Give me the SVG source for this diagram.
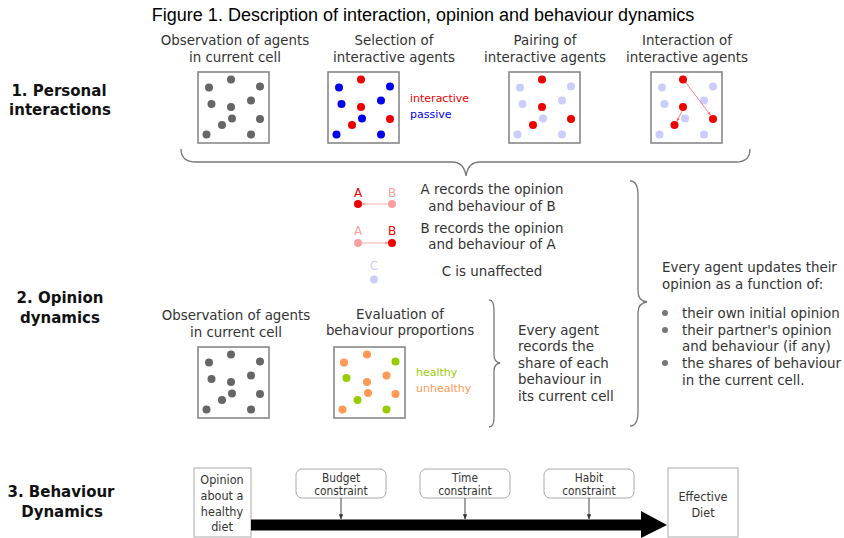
<svg xmlns="http://www.w3.org/2000/svg" width="844" height="538" viewBox="0 0 844 538">
<style>
.t{font-family:"DejaVu Sans",sans-serif;font-size:13.4px;fill:#333}
.m{text-anchor:middle}
.h{font-family:"DejaVu Sans",sans-serif;font-size:15px;font-weight:bold;fill:#111;text-anchor:middle}
.c{font-family:"DejaVu Sans Condensed","DejaVu Sans",sans-serif;font-stretch:condensed;font-size:12.5px;fill:#333;text-anchor:middle}
.k{font-family:"DejaVu Sans Condensed","DejaVu Sans",sans-serif;font-stretch:condensed;font-size:11.8px;fill:#333;text-anchor:middle}
.box{fill:#fff;stroke:#888;stroke-width:1.6}
.bx3{fill:#fff;stroke:#aaa;stroke-width:1}
.br{fill:none;stroke:#777;stroke-width:1.3}
.g{fill:#666}.r{fill:#ee0000}.b{fill:#0000ee}.l{fill:#ccccff}.o{fill:#ff9955}.gr{fill:#99cc00}
.s{font-family:"DejaVu Sans",sans-serif;font-size:11px}
</style>
<defs>
<marker id="ra" viewBox="0 0 10 10" refX="9" refY="5" markerWidth="4" markerHeight="4" orient="auto"><path d="M0,0 L10,5 L0,10 z" fill="#ff6666"/></marker>
<marker id="pa" viewBox="0 0 10 10" refX="9" refY="5" markerWidth="4" markerHeight="4" orient="auto"><path d="M0,0 L10,5 L0,10 z" fill="#f99"/></marker>
<marker id="ka" viewBox="0 0 10 10" refX="9" refY="5" markerWidth="6" markerHeight="6" orient="auto"><path d="M0,1 L10,5 L0,9 z" fill="#333"/></marker>
</defs>
<text x="423" y="21" style="font-family:'Liberation Sans',Arial,sans-serif;font-size:18px;fill:#000" text-anchor="middle">Figure 1. Description of interaction, opinion and behaviour dynamics</text>

<g id="label1"><text class="h" x="59" y="96">1. Personal</text><text class="h" x="60" y="115">interactions</text></g>
<g id="label2"><text class="h" x="60" y="303">2. Opinion</text><text class="h" x="60" y="323">dynamics</text></g>
<g id="label3"><text class="h" x="61" y="497">3. Behaviour</text><text class="h" x="62" y="517">Dynamics</text></g>

<g id="obs1">
<text class="t m" x="235" y="45">Observation of agents</text><text class="t m" x="235" y="62">in current cell</text>
<rect class="box" x="198" y="72" width="71" height="71"/>
<g class="g" transform="translate(198,72)">
<circle cx="33" cy="7.5" r="4"/><circle cx="11" cy="15.5" r="4"/><circle cx="62" cy="14.5" r="4"/><circle cx="13.5" cy="32" r="4"/><circle cx="53" cy="28.5" r="4"/><circle cx="33" cy="35" r="4"/><circle cx="34" cy="46.5" r="4"/><circle cx="62" cy="47" r="4"/><circle cx="24" cy="53" r="4"/><circle cx="8.5" cy="62.5" r="4"/><circle cx="53" cy="62.5" r="4"/>
</g></g>

<g id="select">
<text class="t m" x="394" y="45">Selection of</text><text class="t m" x="394" y="62">interactive agents</text>
<rect class="box" x="328" y="72" width="71" height="71"/>
<g transform="translate(328,72)">
<circle class="r" cx="33" cy="7.5" r="4"/><circle class="b" cx="11" cy="15.5" r="4"/><circle class="b" cx="62" cy="14.5" r="4"/><circle class="b" cx="13.5" cy="32" r="4"/><circle class="b" cx="53" cy="28.5" r="4"/><circle class="r" cx="33" cy="35" r="4"/><circle class="b" cx="34" cy="46.5" r="4"/><circle class="r" cx="62" cy="47" r="4"/><circle class="r" cx="24" cy="53" r="4"/><circle class="b" cx="8.5" cy="62.5" r="4"/><circle class="b" cx="53" cy="62.5" r="4"/>
</g>
<text class="s r" x="410" y="102">interactive</text><text class="s b" x="410" y="118">passive</text>
</g>

<g id="pairing">
<text class="t m" x="545" y="45">Pairing of</text><text class="t m" x="545" y="62">interactive agents</text>
<rect class="box" x="509" y="72" width="71" height="71"/>
<g transform="translate(509,72)">
<circle class="r" cx="33" cy="7.5" r="4"/><circle class="l" cx="11" cy="15.5" r="4"/><circle class="l" cx="62" cy="14.5" r="4"/><circle class="l" cx="13.5" cy="32" r="4"/><circle class="l" cx="53" cy="28.5" r="4"/><circle class="r" cx="33" cy="35" r="4"/><circle class="l" cx="34" cy="46.5" r="4"/><circle class="r" cx="62" cy="47" r="4"/><circle class="r" cx="24" cy="53" r="4"/><circle class="l" cx="8.5" cy="62.5" r="4"/><circle class="l" cx="53" cy="62.5" r="4"/>
</g></g>

<g id="interaction">
<text class="t m" x="687" y="45">Interaction of</text><text class="t m" x="687" y="62">interactive agents</text>
<rect class="box" x="651" y="72" width="71" height="71"/>
<g transform="translate(651,72)">
<circle class="l" cx="11" cy="15.5" r="4"/><circle class="l" cx="62" cy="14.5" r="4"/><circle class="l" cx="13.5" cy="32" r="4"/><circle class="l" cx="53" cy="28.5" r="4"/><circle class="l" cx="34" cy="46.5" r="4"/><circle class="l" cx="8.5" cy="62.5" r="4"/><circle class="l" cx="53" cy="62.5" r="4"/>
<line x1="35.5" y1="11.5" x2="59.5" y2="43" stroke="#ff6666" stroke-width="0.8" marker-start="url(#ra)" marker-end="url(#ra)"/>
<line x1="31" y1="39" x2="26" y2="49" stroke="#ff6666" stroke-width="0.8" marker-start="url(#ra)" marker-end="url(#ra)"/>
<circle class="r" cx="32" cy="7.5" r="4"/><circle class="r" cx="32" cy="35" r="4"/><circle class="r" cx="62" cy="47" r="4"/><circle class="r" cx="23.5" cy="53" r="4"/>
</g></g>

<g id="records">
<text style="font-family:'DejaVu Sans',sans-serif;font-size:12px;fill:#ee0000" x="358" y="197" text-anchor="middle">A</text>
<text style="font-family:'DejaVu Sans',sans-serif;font-size:12px;fill:#f8a0a0" x="392" y="197" text-anchor="middle">B</text>
<line x1="388" y1="204" x2="362" y2="204" stroke="#f99" stroke-width="0.8" marker-end="url(#pa)"/>
<circle cx="358" cy="204" r="4" fill="#ee0000"/><circle cx="392" cy="204" r="4" fill="#f8a0a0"/>
<text class="t m" x="492" y="194">A records the opinion</text><text class="t m" x="492" y="211">and behaviour of B</text>
<text style="font-family:'DejaVu Sans',sans-serif;font-size:12px;fill:#f8a0a0" x="358" y="235" text-anchor="middle">A</text>
<text style="font-family:'DejaVu Sans',sans-serif;font-size:12px;fill:#ee0000" x="392" y="235" text-anchor="middle">B</text>
<line x1="362" y1="243" x2="388" y2="243" stroke="#f99" stroke-width="0.8" marker-end="url(#pa)"/>
<circle cx="358" cy="243" r="4" fill="#f8a0a0"/><circle cx="392" cy="243" r="4" fill="#ee0000"/>
<text class="t m" x="492" y="233">B records the opinion</text><text class="t m" x="492" y="249">and behaviour of A</text>
<text style="font-family:'DejaVu Sans',sans-serif;font-size:12px;fill:#ccccff" x="374" y="270" text-anchor="middle">C</text>
<circle cx="374" cy="279.5" r="4" fill="#ccccff"/>
<text class="t m" x="492" y="276">C is unaffected</text>
</g>

<g id="obs2">
<text class="t m" x="236" y="320">Observation of agents</text><text class="t m" x="236" y="337">in current cell</text>
<rect class="box" x="198" y="347" width="71" height="71"/>
<g class="g" transform="translate(198,347)">
<circle cx="33" cy="7.5" r="4"/><circle cx="11" cy="15.5" r="4"/><circle cx="62" cy="14.5" r="4"/><circle cx="13.5" cy="32" r="4"/><circle cx="53" cy="28.5" r="4"/><circle cx="33" cy="35" r="4"/><circle cx="34" cy="46.5" r="4"/><circle cx="62" cy="47" r="4"/><circle cx="24" cy="53" r="4"/><circle cx="8.5" cy="62.5" r="4"/><circle cx="53" cy="62.5" r="4"/>
</g></g>

<g id="evaluation">
<text class="t m" x="400" y="319">Evaluation of</text><text class="t m" x="400" y="335">behaviour proportions</text>
<rect class="box" x="334" y="347" width="71" height="71"/>
<g transform="translate(334,347)">
<circle class="o" cx="33" cy="7.5" r="4"/><circle class="o" cx="10" cy="15.5" r="4"/><circle class="gr" cx="61.5" cy="14.5" r="4"/><circle class="gr" cx="12.5" cy="31" r="4"/><circle class="o" cx="52.5" cy="28.5" r="4"/><circle class="o" cx="33" cy="35" r="4"/><circle class="o" cx="34" cy="46" r="4"/><circle class="o" cx="61.5" cy="47" r="4"/><circle class="gr" cx="23.5" cy="53" r="4"/><circle class="o" cx="8.5" cy="62.5" r="4"/><circle class="gr" cx="52.5" cy="62.5" r="4"/>
</g>
<text class="s" style="fill:#99cc00" x="416" y="376">healthy</text><text class="s" style="fill:#ff9955" x="416" y="392">unhealthy</text>
</g>

<g id="share">
<text class="t" x="518" y="335">Every agent</text><text class="t" x="518" y="351">records the</text><text class="t" x="518" y="368">share of each</text><text class="t" x="518" y="384">behaviour in</text><text class="t" x="518" y="401">its current cell</text>
</g>

<g id="update">
<text class="t" x="662" y="272">Every agent updates their</text><text class="t" x="662" y="289">opinion as a function of:</text>
<circle cx="665" cy="313" r="3" fill="#777"/><circle cx="665" cy="330" r="3" fill="#777"/><circle cx="665" cy="363" r="3" fill="#777"/>
<text class="t" x="682" y="318">their own initial opinion</text><text class="t" x="682" y="335">their partner's opinion</text><text class="t" x="682" y="351">and behaviour (if any)</text><text class="t" x="682" y="368">the shares of behaviour</text><text class="t" x="682" y="385">in the current cell.</text>
</g>

<g id="behaviour">
<rect class="bx3" x="194" y="468" width="57" height="69"/>
<text class="c" x="222" y="484">Opinion</text><text class="c" x="222" y="500">about a</text><text class="c" x="222" y="516">healthy</text><text class="c" x="222" y="531">diet</text>
<rect class="bx3" x="296" y="469" width="90" height="29" rx="6"/>
<text class="k" x="341" y="482">Budget</text><text class="k" x="341" y="495">constraint</text>
<rect class="bx3" x="420" y="469" width="90" height="29" rx="6"/>
<text class="k" x="465" y="482">Time</text><text class="k" x="465" y="495">constraint</text>
<rect class="bx3" x="544" y="469" width="90" height="29" rx="6"/>
<text class="k" x="589" y="482">Habit</text><text class="k" x="589" y="495">constraint</text>
<rect class="bx3" x="668" y="468" width="70" height="69"/>
<text class="c" x="703" y="501">Effective</text><text class="c" x="703" y="517">Diet</text>
</g>

<g id="connectors">
<path class="br" d="M181,149 Q181,162 196,162 L452,162 Q464,162 466,176 Q468,162 480,162 L736,162 Q750,162 750,149"/>
<path class="br" d="M630,181 Q638,181 638,195 L638,291 Q638,301 647,302 Q638,303 638,313 L638,412 Q638,426 630,426"/>
<path class="br" d="M489,300 Q494,300 494,310 L494,355 Q494,362 500,363 Q494,364 494,371 L494,418 Q494,427 489,427"/>
<line x1="341" y1="498" x2="341" y2="519" stroke="#333" stroke-width="0.9" marker-end="url(#ka)"/>
<line x1="465" y1="498" x2="465" y2="519" stroke="#333" stroke-width="0.9" marker-end="url(#ka)"/>
<line x1="589" y1="498" x2="589" y2="519" stroke="#333" stroke-width="0.9" marker-end="url(#ka)"/>
<path d="M251,519.5 L641,519.5 L641,511 L667,525 L641,538 L641,530.5 L251,530.5 z" fill="#000"/>
</g>
</svg>
